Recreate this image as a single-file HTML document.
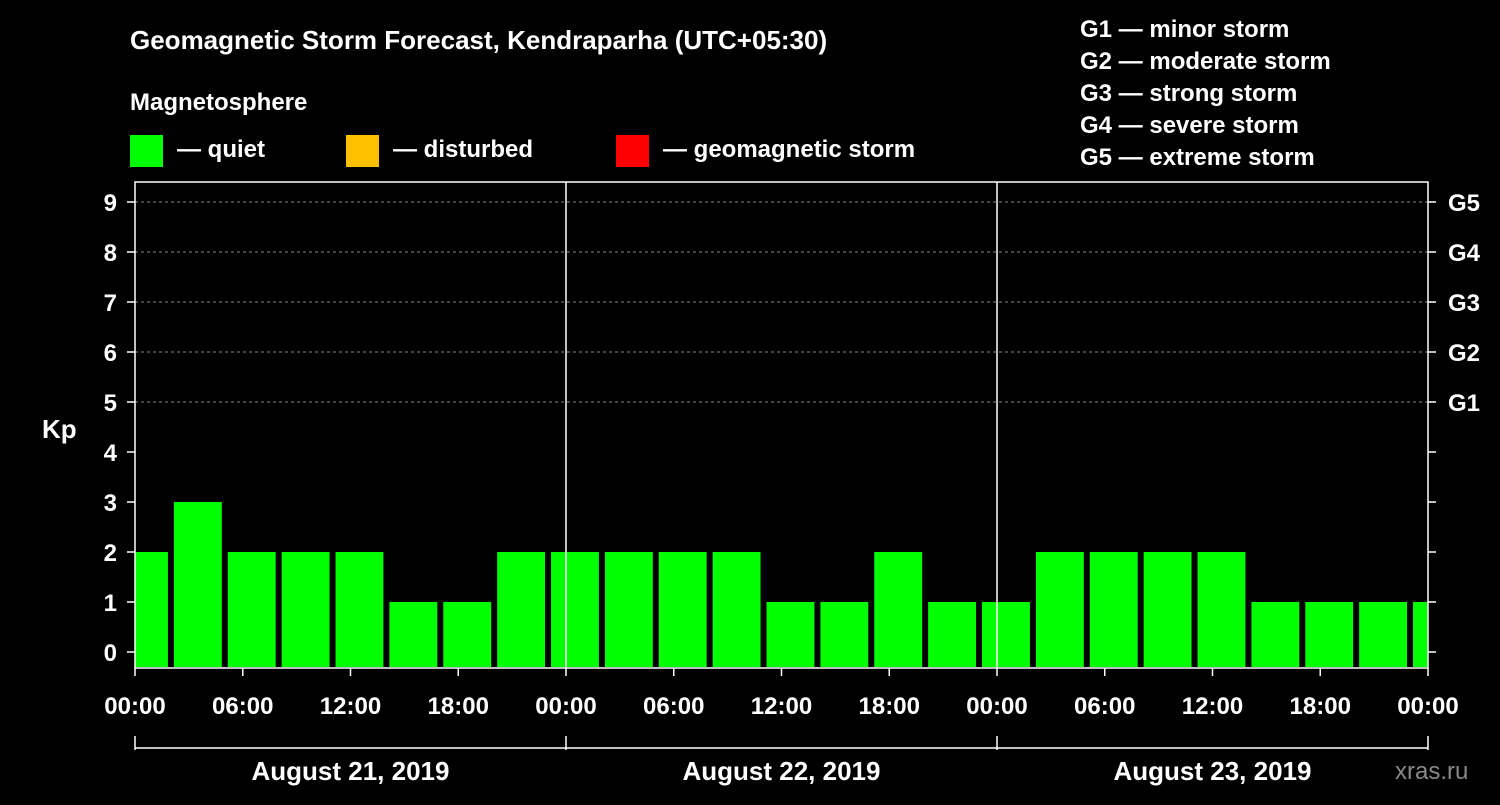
<!DOCTYPE html>
<html><head><meta charset="utf-8"><style>
body{margin:0;background:#000;width:1500px;height:800px;overflow:hidden}
svg text{font-family:"Liberation Sans",sans-serif;font-weight:bold;fill:#fff}
</style></head><body>
<svg id="c" width="1500" height="800">
<text x="130" y="49" font-size="26">Geomagnetic Storm Forecast, Kendraparha (UTC+05:30)</text>
<text x="130" y="110" font-size="24">Magnetosphere</text>
<rect x="130" y="135" width="33" height="32" fill="#00ff00"/>
<text x="177" y="157" font-size="24">— quiet</text>
<rect x="346" y="135" width="33" height="32" fill="#ffc000"/>
<text x="393" y="157" font-size="24">— disturbed</text>
<rect x="616" y="135" width="33" height="32" fill="#ff0000"/>
<text x="663" y="157" font-size="24">— geomagnetic storm</text>
<g font-size="24">
<text x="1080" y="37">G1 — minor storm</text>
<text x="1080" y="69">G2 — moderate storm</text>
<text x="1080" y="101">G3 — strong storm</text>
<text x="1080" y="133">G4 — severe storm</text>
<text x="1080" y="165">G5 — extreme storm</text>
</g>
<text x="42" y="438" font-size="26">Kp</text>
<text x="1395" y="779" font-size="24" fill="#888" style="fill:#888;font-weight:normal">xras.ru</text>
<g id="plot"></g>
</svg>
<script>
const values=[2,3,2,2,2,1,1,2,2,2,2,2,1,1,2,1,1,2,2,2,2,1,1,1,1];
const yTicks=[0,1,2,3,4,5,6,7,8,9];
const gLabels=["G1","G2","G3","G4","G5"];
const xTickLabels=["00:00","06:00","12:00","18:00","00:00","06:00","12:00","18:00","00:00","06:00","12:00","18:00","00:00"];
const dayLabels=["August 21, 2019","August 22, 2019","August 23, 2019"];
const slotStartHour=-1, slotHours=3;
const X0=135,X1=1428,HOURS=72;
const x=h=>X0+(X1-X0)*h/HOURS;
const y=v=>652-50*v;
const NS="http://www.w3.org/2000/svg";
const g=document.getElementById('plot');
function mk(t,a){const e=document.createElementNS(NS,t);for(const k in a)e.setAttribute(k,a[k]);g.appendChild(e);return e;}
yTicks.forEach(v=>{
  if(v>=5){const l=mk('line',{x1:X0,x2:X1,y1:y(v),y2:y(v),stroke:'#888','stroke-dasharray':'3,3'});
  
  }
  const t=mk('text',{x:117,y:y(v)+9,'font-size':24,'text-anchor':'end'});t.textContent=v;
  
  
  mk('line',{x1:X0-8,x2:X0,y1:y(v),y2:y(v),stroke:'#fff','stroke-width':1.5});
  mk('line',{x1:X1,x2:X1+8,y1:y(v),y2:y(v),stroke:'#fff','stroke-width':1.5});
});
gLabels.forEach((s,i)=>{const t=mk('text',{x:1448,y:y(5+i)+9,'font-size':24});t.textContent=s;
  
  });
values.forEach((v,i)=>{
  const h0=slotStartHour+i*slotHours;
  let a=x(h0)+3,b=x(h0+slotHours)-3;a=Math.max(a,X0);b=Math.min(b,X1);
  const r=mk('rect',{x:a,y:y(v),width:b-a,height:667-y(v),fill:'#00ff00'});
  
  
});
[24,48].forEach(h=>mk('line',{x1:x(h),x2:x(h),y1:182,y2:668,stroke:'#fff','stroke-width':1.5}));
const fr=mk('rect',{x:X0,y:182,width:X1-X0,height:486,fill:'none',stroke:'#fff','stroke-width':1.5});


xTickLabels.forEach((s,i)=>{const h=i*6;
  mk('line',{x1:x(h),x2:x(h),y1:668,y2:676,stroke:'#fff','stroke-width':1.5});
  const t=mk('text',{x:x(h),y:714,'font-size':24,'text-anchor':'middle'});t.textContent=s;
  
  });
mk('line',{x1:X0,x2:X1,y1:748,y2:748,stroke:'#fff','stroke-width':1.5});
[0,24,48,72].forEach(h=>mk('line',{x1:x(h),x2:x(h),y1:736,y2:750,stroke:'#fff','stroke-width':1.5}));
dayLabels.forEach((s,i)=>{const t=mk('text',{x:x(i*24+12),y:780,'font-size':26,'text-anchor':'middle'});t.textContent=s;
  
  });
</script>
</body></html>
